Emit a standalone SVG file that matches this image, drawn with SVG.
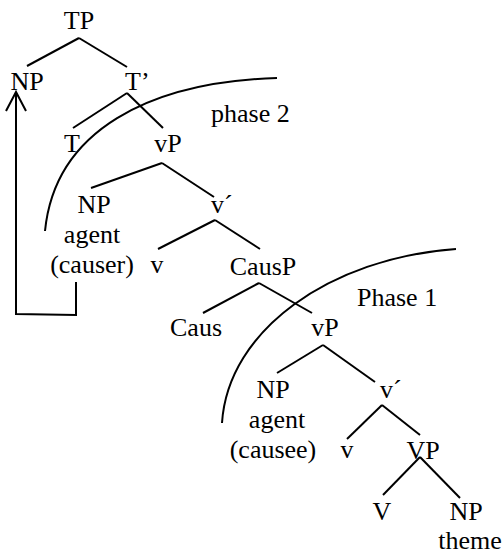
<svg xmlns="http://www.w3.org/2000/svg" width="503" height="550" viewBox="0 0 503 550">
<style>
text{font-family:"Liberation Serif","Times New Roman",serif;font-size:26px;fill:#000}
.m{text-anchor:middle}
.ln line,.ln path,.ln polyline{stroke:#000;stroke-width:2;fill:none}
</style>
<rect width="503" height="550" fill="#fff"/>
<g id="connectors" class="ln">
<line x1="79" y1="38" x2="27" y2="66"/>
<line x1="79" y1="38" x2="127" y2="67"/>
<line x1="127" y1="93" x2="73" y2="128"/>
<line x1="127" y1="93" x2="163" y2="128"/>
<line x1="162" y1="163" x2="91" y2="188"/>
<line x1="162" y1="163" x2="214" y2="197"/>
<line x1="215" y1="220" x2="158" y2="249"/>
<line x1="215" y1="220" x2="260" y2="249"/>
<line x1="259" y1="283" x2="203" y2="313"/>
<line x1="259" y1="283" x2="312" y2="313"/>
<line x1="323" y1="345" x2="277" y2="373"/>
<line x1="323" y1="345" x2="375" y2="382"/>
<line x1="382" y1="405" x2="347" y2="439"/>
<line x1="382" y1="405" x2="420" y2="435"/>
<line x1="420" y1="457" x2="383" y2="495"/>
<line x1="420" y1="457" x2="460" y2="498"/>
<path d="M45,231 C55,130 150,82 277,78"/>
<path d="M222,423 C228,330 330,258 456,249"/>
<polyline points="76,282 76,315 16,314 16,92"/>
<polyline points="6,111 16,92 26,111"/>
</g>
<g id="n-tp"><text class="m" x="79" y="29">TP</text></g>
<g id="n-np1"><text class="m" x="27" y="90">NP</text></g>
<g id="n-tbar"><text x="125" y="90">T’</text></g>
<g id="n-t"><text class="m" x="72" y="152">T</text></g>
<g id="n-vp1"><text class="m" x="168" y="152">vP</text></g>
<g id="n-phase2"><text x="211" y="122">phase 2</text></g>
<g id="n-np2"><text class="m" x="94" y="213">NP</text><text class="m" x="92" y="243">agent</text><text class="m" x="92" y="273">(causer)</text></g>
<g id="n-vbar1"><text x="211" y="213">v´</text></g>
<g id="n-v1"><text class="m" x="157" y="273">v</text></g>
<g id="n-causp"><text class="m" x="263" y="275">CausP</text></g>
<g id="n-phase1"><text x="357" y="306">Phase 1</text></g>
<g id="n-caus"><text class="m" x="196" y="336">Caus</text></g>
<g id="n-vp2"><text class="m" x="325" y="336">vP</text></g>
<g id="n-np3"><text class="m" x="273" y="398">NP</text><text class="m" x="277" y="428">agent</text><text class="m" x="273" y="458">(causee)</text></g>
<g id="n-vbar2"><text x="380" y="398">v´</text></g>
<g id="n-v2"><text class="m" x="347" y="458">v</text></g>
<g id="n-vp3"><text class="m" x="423" y="459">VP</text></g>
<g id="n-V"><text class="m" x="382" y="520">V</text></g>
<g id="n-np4"><text class="m" x="466" y="520">NP</text><text class="m" x="470" y="549">theme</text></g>
</svg>
